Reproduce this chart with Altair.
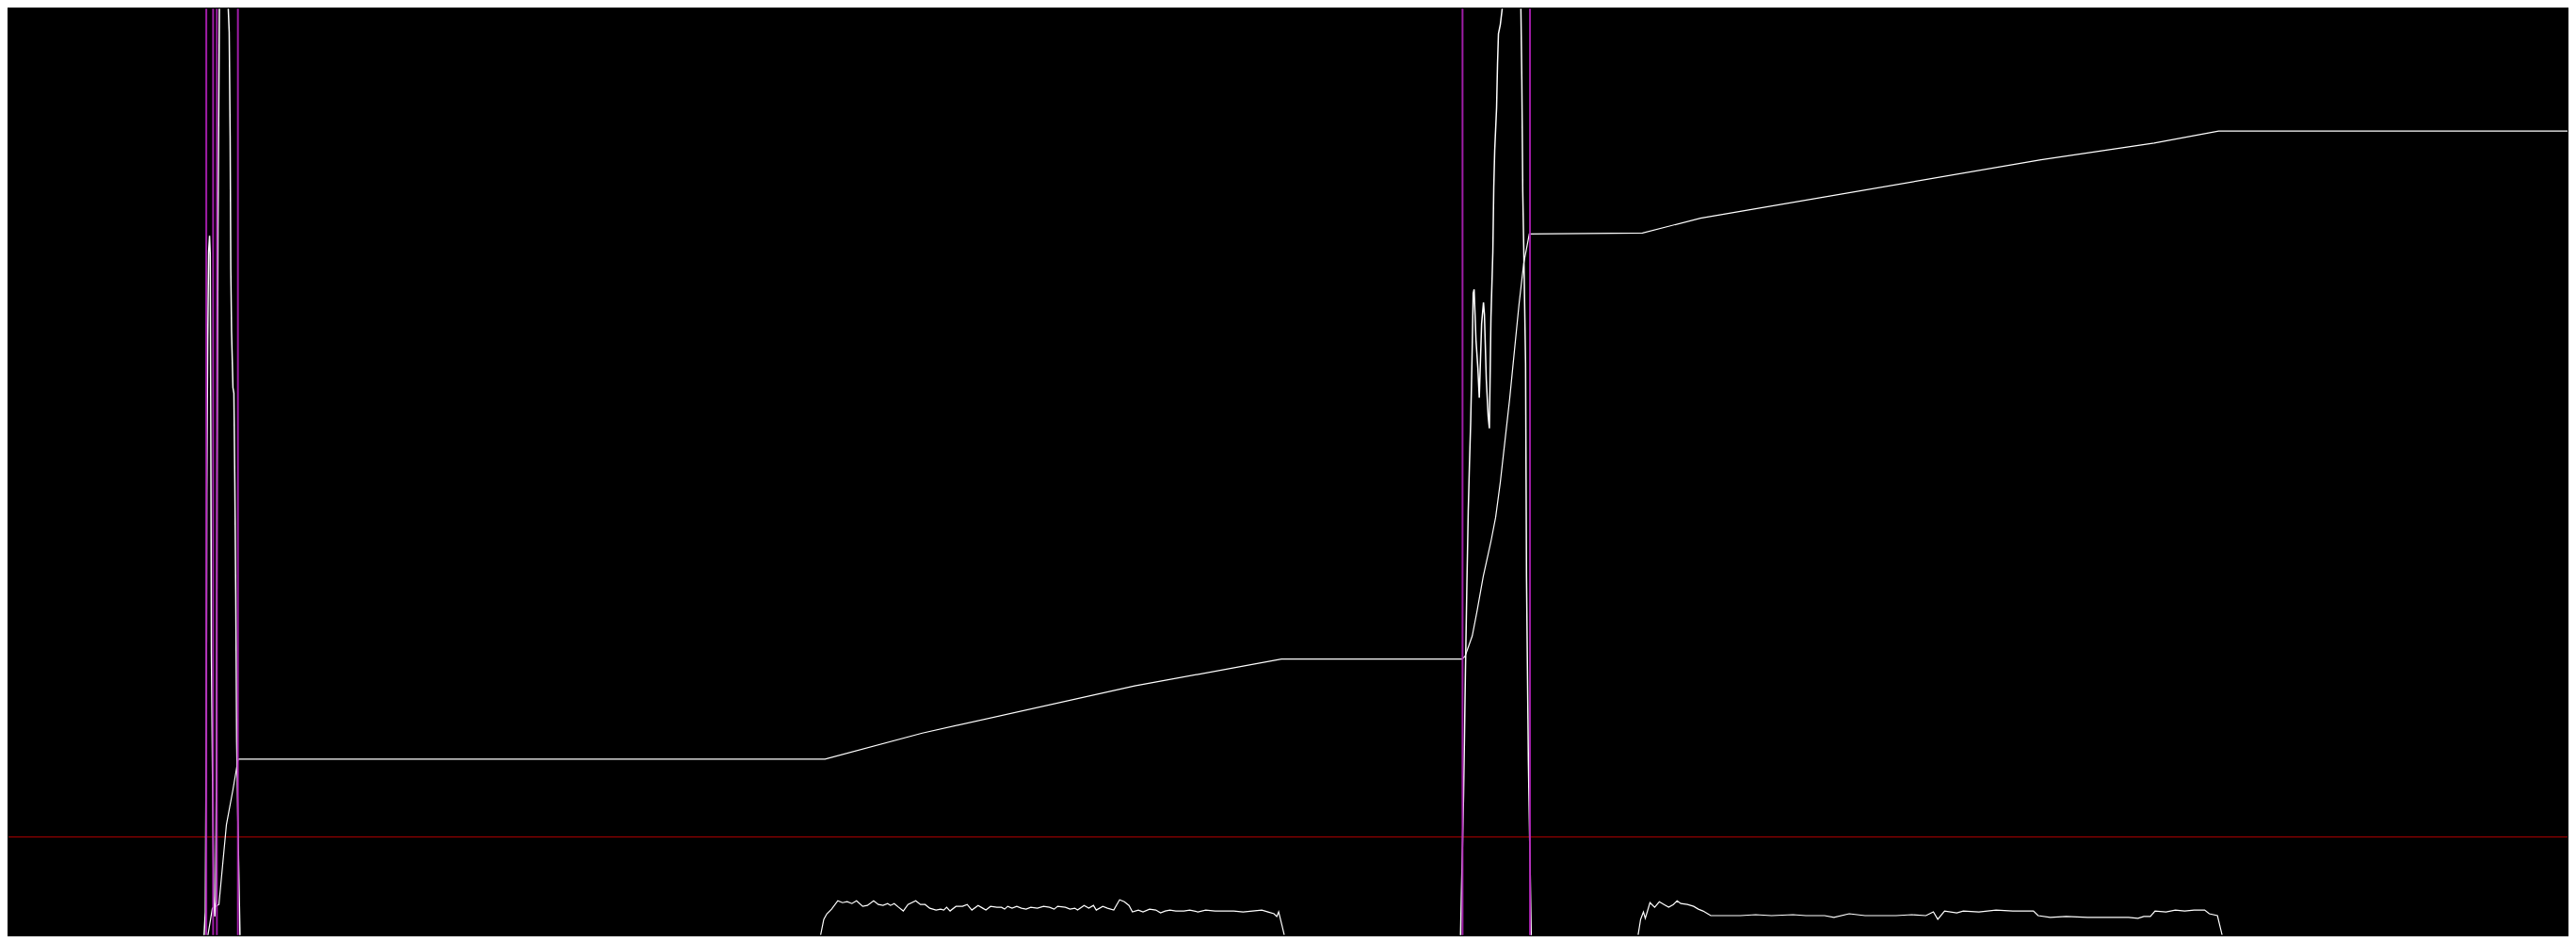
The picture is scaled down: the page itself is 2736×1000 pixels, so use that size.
import altair as alt
import pandas as pd

# ── Trace values (x = sample index, y = level 0..1000) ──
# step / position trace
pos_t = [212.5, 213.3, 218, 225, 233, 240, 245.5, 873, 977, 1204, 1361, 1554,
         1557.3, 1565, 1570, 1576.7, 1585, 1590, 1595, 1600, 1605, 1610, 1615, 1620, 1626,
         1747, 1809, 2173, 2294, 2363, 2736]
pos_v = [-40, 0, 29, 33, 119, 157, 190, 190, 218, 269, 298, 298,
         301, 323, 349, 387, 425, 451, 489, 534, 579, 630, 681, 725, 757,
         758, 774, 837, 855, 868, 868]

# ringing burst, first switch event
burst1_t = [207, 210.5, 211.5, 212, 213, 214, 215, 215.7, 216.3, 217, 218.5, 219.5, 220.5, 221.5,
            222.3, 223, 224, 225.5, 226, 230, 234.5, 235, 236, 237, 237.7, 238.5, 240, 241,
            242, 243, 244, 246, 247.5, 248]
burst1_v = [-40, 25, 224, 476, 642, 738, 755, 735, 553, 304, 135, 42, 20, 35,
            163, 489, 760, 1000, 1040, 1100, 1040, 1000, 975, 863, 719, 652, 591, 585,
            489, 368, 208, 80, 0, -40]

# ringing burst, second switch event
burst2_t = [1551, 1552.5, 1555.7, 1556.7, 1557.7, 1559.3, 1560.7, 1562, 1563.3, 1564.7, 1566, 1567,
            1569, 1571, 1572.5, 1575, 1577, 1578, 1580, 1582, 1583.3, 1585, 1587, 1588, 1589,
            1591, 1592, 1593, 1595, 1597, 1598, 1607, 1616, 1617, 1618, 1619, 1620, 1622,
            1623, 1625, 1627, 1628, 1629]
burst2_v = [-40, 0, 151, 215, 285, 381, 457, 508, 553, 620, 693, 697,
            642, 612, 580, 660, 683, 670, 600, 560, 547, 667, 737, 807, 847,
            893, 940, 973, 983, 1000, 1040, 1100, 1040, 1000, 923, 802, 745, 617,
            387, 189, 65, 0, -40]

# noisy load level during the first ramp
noise1_t = [868.3, 871.7, 875, 880, 886.7, 891.7, 896.7, 901.7, 906.7, 913.3, 918.3, 925, 930,
            935, 940, 943, 947, 951.7, 956.7, 961.7, 970, 975, 980, 985, 991.7, 996.7, 1000,
            1003, 1006.7, 1013, 1020, 1025, 1030, 1036.7, 1041.7, 1045, 1050, 1056.7, 1061.7,
            1065, 1068.3, 1073, 1078, 1083, 1088, 1093, 1100, 1106.7, 1113, 1118, 1121.7, 1130,
            1135, 1140, 1143, 1150, 1155, 1160, 1163, 1170, 1175, 1181.7, 1185, 1188, 1193,
            1198, 1201.7, 1208, 1213, 1220, 1226.7, 1231.7, 1236.7, 1241.7, 1248, 1256.7, 1263,
            1271.7, 1280, 1290, 1300, 1310, 1320, 1330, 1340, 1346.7, 1353, 1356, 1358, 1361.7,
            1364]
noise1_v = [0, 17, 23, 28, 37, 35, 36, 34, 37, 31, 32, 37, 33,
            32, 34, 32, 34, 30, 26, 33, 37, 33, 33, 29, 27, 28, 27,
            30, 26, 31, 31, 33, 27, 32, 29, 27, 31, 30, 30,
            28, 31, 29, 31, 29, 28, 30, 29, 31, 30, 28, 31, 30,
            28, 29, 27, 32, 29, 32, 27, 31, 29, 27, 33, 38, 36,
            32, 25, 27, 25, 28, 27, 24, 26, 27, 26, 26, 27,
            25, 27, 26, 26, 26, 25, 26, 27, 25, 23, 20, 25, 10,
            0]

# noisy load level during the second ramp
noise2_t = [1742.3, 1745, 1748, 1750, 1755, 1760, 1765, 1770, 1775, 1780, 1784, 1788, 1795,
            1801.7, 1806.7, 1811.7, 1816.7, 1820, 1835, 1851.7, 1868, 1885, 1908, 1921.7, 1941.7,
            1951.7, 1968, 1985, 2001.7, 2018, 2035, 2050, 2058, 2062.7, 2070, 2083, 2090, 2106.7,
            2125, 2143, 2165, 2170, 2183, 2200, 2223, 2250, 2266.7, 2276.7, 2283, 2290, 2295,
            2306.7, 2316.7, 2326.7, 2336.7, 2341.7, 2348, 2353, 2361.7, 2366.7]
noise2_v = [0, 17, 25, 18, 35, 30, 36, 33, 30, 33, 37, 34, 33,
            31, 28, 26, 23, 21, 21, 21, 22, 21, 22, 21, 21,
            19, 23, 21, 21, 21, 22, 21, 25, 17, 26, 24, 26, 25,
            27, 26, 26, 21, 19, 20, 19, 19, 19, 18, 20, 20, 26,
            25, 27, 26, 27, 27, 27, 23, 21, 0]

# switch markers and trigger threshold
marker_t = [211.5, 218.8, 222.8, 245.3, 1554.6, 1626.7]
trigger_level = [106]


def trace(t, v, name):
    return pd.DataFrame({'t': t, 'v': v, 'trace': name, 'i': range(len(t))})


x_scale = alt.Scale(domain=[0, 2736], nice=False, zero=False)
y_scale = alt.Scale(domain=[0, 1000], nice=False, zero=False)


def line_layer(df, width):
    return alt.Chart(df).mark_line(clip=True, color='#ffffff', strokeWidth=width).encode(
        x=alt.X('t:Q', scale=x_scale, axis=None),
        y=alt.Y('v:Q', scale=y_scale, axis=None),
        order='i:Q'
    )


trigger = alt.Chart(pd.DataFrame({'v': trigger_level})).mark_rule(
    color='#b00000', strokeWidth=1
).encode(y=alt.Y('v:Q', scale=y_scale, axis=None))

markers = alt.Chart(pd.DataFrame({'t': marker_t})).mark_rule(
    color='#b020b8', strokeWidth=2, opacity=0.9
).encode(x=alt.X('t:Q', scale=x_scale, axis=None))

chart = alt.layer(
    trigger,
    line_layer(trace(noise1_t, noise1_v, 'load 1'), 1.2),
    line_layer(trace(noise2_t, noise2_v, 'load 2'), 1.2),
    line_layer(trace(pos_t, pos_v, 'position'), 1.2),
    line_layer(trace(burst1_t, burst1_v, 'burst 1'), 1.5),
    line_layer(trace(burst2_t, burst2_v, 'burst 2'), 1.5),
    markers
).properties(
    width=2720,
    height=984,
    padding=0,
    background='black'
).configure_view(stroke=None)

chart.save("out.html", embed_options={"renderer": "svg", "actions": False})
